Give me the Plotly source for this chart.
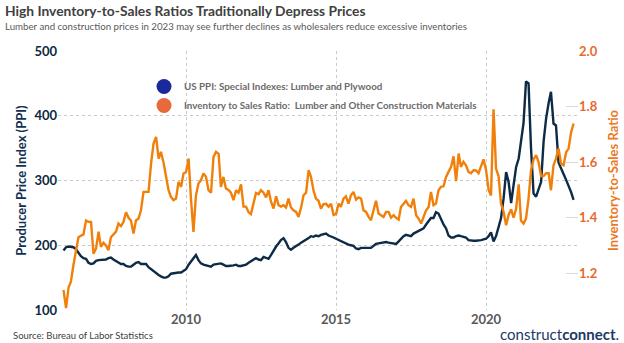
import pandas as pd
import plotly.graph_objects as go

# ---- data (monthly, Dec 2005 .. Dec 2022) ----
start_month = "2005-12-01"
n_months = 205
dates = pd.date_range(start_month, periods=n_months, freq="MS")

ppi = [
    192, 197, 198, 198, 197, 194, 188, 183, 180, 179, 173, 171,
    172, 176, 177, 177, 177, 178, 180, 181, 178, 176, 173, 171,
    171, 168, 167, 167, 170, 173, 174, 171, 171, 171, 166, 163,
    159, 157, 154, 152, 150, 150, 152, 156, 157, 157, 158, 158,
    161, 163, 170, 175, 180, 185, 177, 172, 170, 169, 167, 167,
    170, 171, 172, 172, 170, 168, 168, 168, 169, 170, 168, 168,
    169, 170, 173, 175, 178, 180, 178, 177, 182, 181, 179, 185,
    192, 198, 203, 208, 211, 205, 196, 193, 196, 198, 201, 204,
    206, 208, 211, 214, 213, 215, 214, 216, 217, 218, 215, 214,
    212, 210, 208, 206, 204, 203, 201, 200, 199, 195, 194, 196,
    196, 195, 195, 196, 199, 202, 203, 204, 205, 205, 204, 203,
    202, 202, 206, 210, 214, 216, 215, 214, 218, 220, 223, 225,
    226, 232, 238, 242, 242, 251, 249, 240, 232, 226, 215, 212,
    212, 214, 215, 214, 213, 212, 208, 207, 207, 207, 207, 208,
    209, 210, 214, 220, 206, 214, 228, 242, 272, 313, 298, 265,
    293, 321, 334, 360, 389, 453, 450, 350, 280, 275, 287, 298,
    360, 396, 420, 437, 388, 385, 328, 318, 310, 301, 292, 282,
    270,
]

inv_ratio = [
    1.140, 1.075, 1.150, 1.170, 1.230, 1.280, 1.330, 1.335, 1.340, 1.390, 1.385, 1.385,
    1.270, 1.290, 1.350, 1.295, 1.310, 1.300, 1.283, 1.330, 1.340, 1.350, 1.379, 1.370,
    1.385, 1.420, 1.400, 1.390, 1.343, 1.390, 1.397, 1.427, 1.493, 1.493, 1.493, 1.595,
    1.667, 1.691, 1.613, 1.637, 1.600, 1.550, 1.500, 1.475, 1.463, 1.469, 1.529, 1.511,
    1.559, 1.565, 1.613, 1.470, 1.349, 1.480, 1.523, 1.535, 1.559, 1.547, 1.499, 1.490,
    1.619, 1.637, 1.630, 1.511, 1.547, 1.505, 1.500, 1.490, 1.463, 1.499, 1.490, 1.520,
    1.440, 1.440, 1.420, 1.413, 1.451, 1.489, 1.485, 1.499, 1.490, 1.473, 1.499, 1.457,
    1.433, 1.477, 1.445, 1.440, 1.445, 1.437, 1.469, 1.437, 1.427, 1.421, 1.403, 1.437,
    1.481, 1.490, 1.571, 1.547, 1.499, 1.469, 1.461, 1.433, 1.449, 1.450, 1.440, 1.450,
    1.410, 1.413, 1.451, 1.439, 1.469, 1.477, 1.451, 1.481, 1.493, 1.465, 1.473, 1.469,
    1.427, 1.421, 1.403, 1.391, 1.427, 1.461, 1.415, 1.409, 1.403, 1.421, 1.421, 1.400,
    1.409, 1.400, 1.393, 1.439, 1.449, 1.461, 1.445, 1.439, 1.469, 1.409, 1.397, 1.379,
    1.403, 1.427, 1.439, 1.493, 1.445, 1.451, 1.499, 1.511, 1.513, 1.547, 1.565, 1.583,
    1.621, 1.532, 1.631, 1.583, 1.601, 1.589, 1.565, 1.560, 1.571, 1.570, 1.560, 1.589,
    1.610, 1.571, 1.500, 1.480, 1.790, 1.577, 1.550, 1.450, 1.421, 1.373, 1.410, 1.430,
    1.400, 1.433, 1.520, 1.390, 1.379, 1.397, 1.469, 1.571, 1.610, 1.625, 1.600, 1.550,
    1.550, 1.560, 1.560, 1.499, 1.589, 1.613, 1.649, 1.595, 1.589, 1.635, 1.649, 1.707,
    1.739,
]

ppi_name = "US PPI: Special Indexes: Lumber and Plywood"
inv_name = "Inventory to Sales Ratio:  Lumber and Other Construction Materials"
ppi_ticks = [100, 200, 300, 400, 500]
ratio_ticks = [1.2, 1.4, 1.6, 1.8, 2.0]
year_ticks = ["2010-01-01", "2015-01-01", "2020-01-01"]
year_labels = ["2010", "2015", "2020"]

NAVY = "#0D2B46"
ORANGE = "#F0800A"
ORANGE_TXT = "#E8692C"
GRID = "#C9C9C9"
FONT = "Lato"

fig = go.Figure()
fig.add_trace(go.Scatter(x=dates, y=ppi, mode="lines", name=ppi_name,
                         line=dict(color=NAVY, width=2.4), showlegend=False, yaxis="y"))
fig.add_trace(go.Scatter(x=dates, y=inv_ratio, mode="lines", name=inv_name,
                         line=dict(color=ORANGE, width=2.4), showlegend=False, yaxis="y2"))
# legend entries (circle markers)
fig.add_trace(go.Scatter(x=[None], y=[None], mode="markers", name=ppi_name,
                         marker=dict(color="#1A2A9A", size=15, symbol="circle")))
fig.add_trace(go.Scatter(x=[None], y=[None], mode="markers", name=inv_name,
                         marker=dict(color="#E8693A", size=15, symbol="circle")))

W, H = 624, 343
L, R, T, B = 58, 46, 51, 33
pw, ph = W - L - R, H - T - B

def px(x):
    return (x - L) / pw

def py(y):
    return (H - B - y) / ph

fig.update_layout(
    width=W, height=H,
    margin=dict(l=L, r=R, t=T, b=B, autoexpand=False),
    paper_bgcolor="white", plot_bgcolor="white",
    font=dict(family=FONT, color="#404040"),
    xaxis=dict(range=["2005-09-25", "2023-01-24"], tickvals=year_ticks, ticktext=year_labels,
               showgrid=True, gridcolor=GRID, griddash="dot", gridwidth=1,
               zeroline=False, showline=False, ticks="", automargin=False,
               tickfont=dict(size=13, color="#595959", weight="bold", family=FONT)),
    yaxis=dict(range=[100, 500], tickvals=ppi_ticks, showgrid=True, gridcolor=GRID,
               griddash="dot", gridwidth=1, zeroline=False, showline=False, ticks="",
               automargin=False,
               tickfont=dict(size=13, color="#0E2841", weight="bold", family=FONT),
               title=dict(text="Producer Price Index (PPI)", standoff=4,
                          font=dict(size=13, color="#12304F", weight="bold", family=FONT))),
    yaxis2=dict(range=[1.068, 2.0], tickvals=ratio_ticks, tickformat=".1f",
                overlaying="y", side="right", showgrid=False, zeroline=False,
                showline=False, ticks="inside", ticklen=12, tickcolor="#DADADA",
                automargin=False,
                tickfont=dict(size=13, color=ORANGE_TXT, weight="bold", family=FONT),
                title=dict(text="Inventory-to-Sales Ratio", standoff=12,
                           font=dict(size=13, color="#EA7A22", weight="bold", family=FONT))),
    legend=dict(x=px(144), y=py(72), xanchor="left", yanchor="top",
                bgcolor="rgba(0,0,0,0)", itemsizing="trace",
                font=dict(size=9.8, color="#6B6B6B", weight="bold", family=FONT),
                tracegroupgap=0),
    showlegend=True,
)

fig.add_annotation(text="High Inventory-to-Sales Ratios Traditionally Depress Prices",
                   xref="paper", yref="paper", x=px(3), y=py(10), xanchor="left", yanchor="middle",
                   showarrow=False, font=dict(size=13.8, color="#404040", weight="bold", family=FONT))
fig.add_annotation(text="Lumber and construction prices in 2023 may see further declines as wholesalers reduce excessive inventories",
                   xref="paper", yref="paper", x=px(3), y=py(26), xanchor="left", yanchor="middle",
                   showarrow=False, font=dict(size=9.7, color="#595959", family=FONT))
fig.add_annotation(text="Source: Bureau of Labor Statistics",
                   xref="paper", yref="paper", x=px(11), y=py(335), xanchor="left", yanchor="middle",
                   showarrow=False, font=dict(size=9.5, color="#404040", family=FONT))
fig.add_annotation(text="construct<b>connect</b>.",
                   xref="paper", yref="paper", x=px(621), y=py(334), xanchor="right", yanchor="middle",
                   showarrow=False, font=dict(size=15, color="#1D3A66", family=FONT))

fig.write_html("out.html")
